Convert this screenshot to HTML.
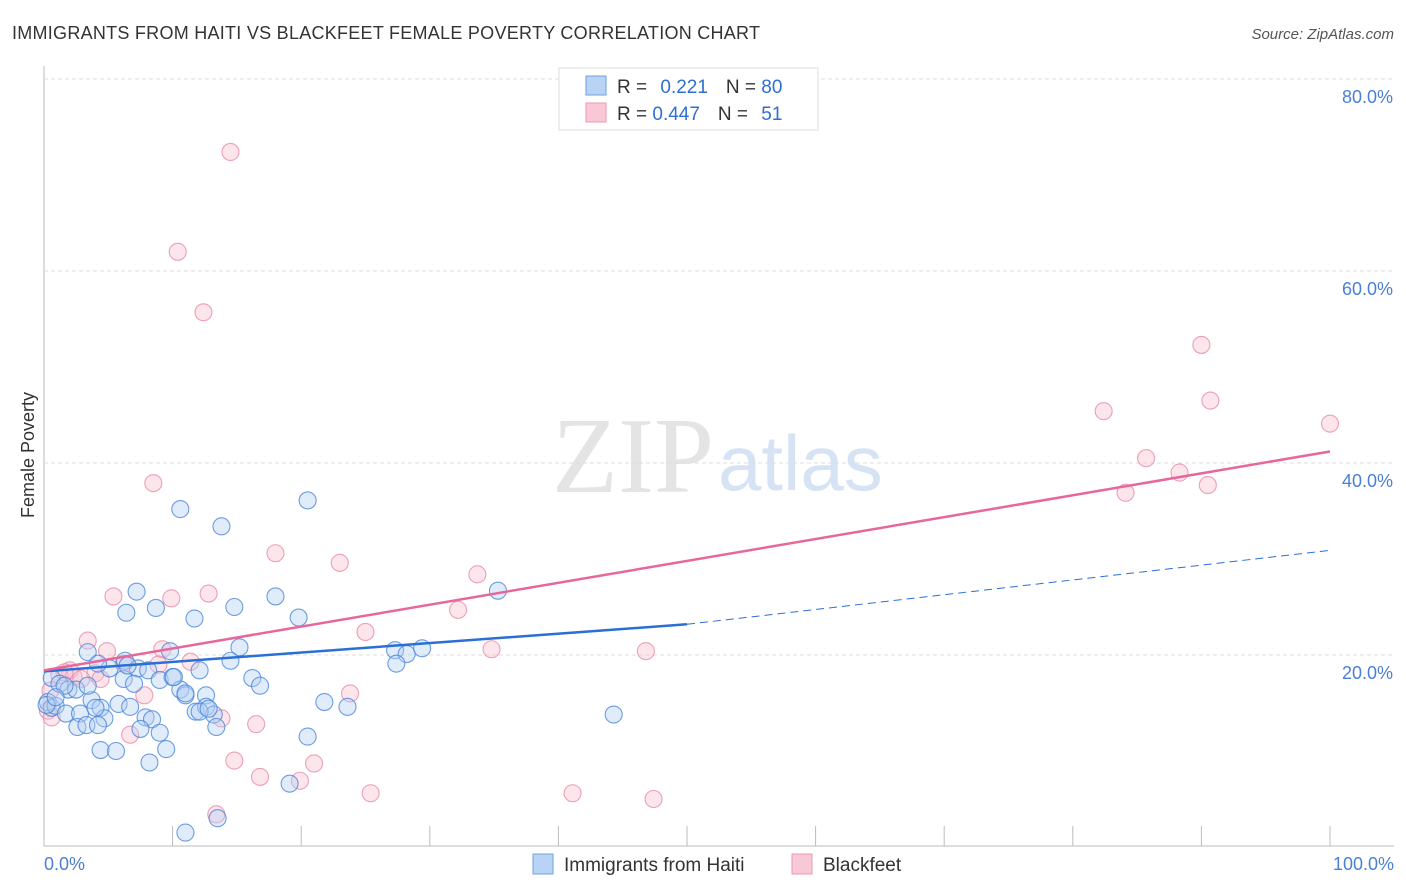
<!DOCTYPE html>
<html><head><meta charset="utf-8"><style>
body{margin:0;background:#fff;font-family:"Liberation Sans",sans-serif;}
svg{display:block}
</style></head><body>
<svg id="chart" width="1406" height="892">
<text x="12" y="39" font-size="18" fill="#333" textLength="748">IMMIGRANTS FROM HAITI VS BLACKFEET FEMALE POVERTY CORRELATION CHART</text>
<text x="1394" y="39" font-size="15" fill="#555" font-style="italic" text-anchor="end">Source: ZipAtlas.com</text>
<text x="714" y="492" font-size="108" fill="#e4e4e4" font-family="Liberation Serif,serif" text-anchor="end">ZIP</text>
<text x="718" y="490" font-size="78" fill="#d6e3f5">atlas</text>
<g id="grid"></g>
<g id="pts"></g>
<g id="lines"></g>
<text x="34" y="455" font-size="18" fill="#333" transform="rotate(-90 34 455)" text-anchor="middle">Female Poverty</text>
<text x="44" y="870" font-size="18" fill="#4a7fd6">0.0%</text>
<text x="1394" y="870" font-size="18" fill="#4a7fd6" text-anchor="end">100.0%</text>
<g>
<rect x="559" y="68" width="259" height="62" fill="#fff" stroke="#ddd"/>
<rect x="586" y="76" width="20" height="19" fill="#b9d3f4" stroke="#6f9fe0"/>
<rect x="586" y="103" width="20" height="19" fill="#f8c8d6" stroke="#ee98b0"/>
<text x="617" y="93" font-size="19" fill="#333">R = <tspan fill="#2f6fd0" dx="8">0.221</tspan><tspan dx="18">N = </tspan><tspan fill="#2f6fd0">80</tspan></text>
<text x="617" y="120" font-size="19" fill="#333">R = <tspan fill="#2f6fd0">0.447</tspan><tspan dx="18">N = </tspan><tspan fill="#2f6fd0" dx="8">51</tspan></text>
</g>
<g>
<rect x="533" y="854" width="20" height="20" fill="#b9d3f4" stroke="#6f9fe0"/>
<text x="564" y="871" font-size="19" fill="#333">Immigrants from Haiti</text>
<rect x="792" y="854" width="20" height="20" fill="#f8c8d6" stroke="#ee98b0"/>
<text x="823" y="871" font-size="19" fill="#333">Blackfeet</text>
</g>
</svg>
<script>
const yTicks=[20,40,60,80];
const xTicks=[0,10,20,30,40,50,60,70,80,90,100];
const haitiX=[10.6,13.8,20.5,7.2,6.4,8.7,14.8,18.0,19.8,11.7,35.3,3.4,6.3,9.8,15.2,14.5,5.1,7.3,8.1,9.0,10.0,12.1,16.2,16.8,27.3,28.2,29.4,27.4,0.6,1.2,1.9,2.5,1.6,0.3,0.6,0.9,1.7,2.8,3.7,4.4,4.7,5.8,6.7,7.9,8.4,10.6,11.0,11.8,12.6,12.6,13.2,12.1,2.6,3.3,4.2,7.5,9.0,9.5,4.4,5.6,8.2,20.5,21.8,23.6,44.3,19.1,11.0,13.5,11.0,10.1,4.2,3.4,6.2,7.0,0.2,0.9,12.8,13.4,4.0,6.5];
const haitiY=[35.2,33.4,36.1,26.6,24.4,24.9,25.0,26.1,23.9,23.8,26.7,20.3,19.4,20.4,20.8,19.4,18.6,18.6,18.4,17.4,17.7,18.4,17.6,16.8,20.5,20.1,20.7,19.1,17.6,17.0,16.4,16.4,16.8,15.1,14.5,14.7,13.9,13.9,15.3,14.5,13.4,14.9,14.6,13.5,13.3,16.4,15.8,14.1,15.8,14.6,13.8,14.1,12.5,12.7,12.7,12.3,11.9,10.2,10.1,10.0,8.8,11.5,15.1,14.6,13.8,6.6,1.5,3.0,16.0,17.7,19.1,16.8,17.5,17.0,14.8,15.6,14.4,12.5,14.5,18.9];
const bfX=[14.5,10.4,12.4,8.5,90.0,82.4,90.7,100.0,85.7,84.1,88.3,90.5,18.0,23.0,33.7,32.2,25.0,34.8,46.8,5.4,9.9,12.8,3.4,4.9,9.2,11.4,8.9,6.2,4.0,2.0,1.2,2.3,2.9,4.4,0.5,0.3,0.6,7.8,23.8,13.8,16.5,6.7,14.8,16.8,21.0,19.9,25.4,41.1,47.4,13.4,1.6];
const bfY=[72.4,62.0,55.7,37.9,52.3,45.4,46.5,44.1,40.5,36.9,39.0,37.7,30.6,29.6,28.4,24.7,22.4,20.6,20.4,26.1,25.9,26.4,21.5,20.4,20.6,19.3,19.0,19.1,18.1,18.4,17.9,17.7,17.5,17.5,16.3,14.2,13.5,15.8,16.0,13.4,12.8,11.7,9.0,7.3,8.7,6.9,5.6,5.6,5.0,3.4,18.2];
const haitiReg=[[0,18.3],[50,23.2],[100,30.9]];
const bfReg=[[0,18.4],[100,41.2]];
const X=v=>44+v*12.86, Y=v=>847-v*9.6;
const NS='http://www.w3.org/2000/svg';
function mk(t,a,p){const e=document.createElementNS(NS,t);for(const k in a)e.setAttribute(k,a[k]);p.appendChild(e);return e;}
const g=document.getElementById('grid');
mk('line',{x1:44,y1:66,x2:44,y2:846,stroke:'#bbb'},g);
mk('line',{x1:44,y1:846,x2:1394,y2:846,stroke:'#bbb'},g);
yTicks.forEach(t=>{
const l=mk('line',{x1:44,y1:Y(t),x2:1394,y2:Y(t),stroke:'#ddd','stroke-dasharray':'4,3'},g);


const tx=mk('text',{x:1393,y:Y(t)+24,'font-size':18,fill:'#4a7fd6','text-anchor':'end'},g);
tx.textContent=t.toFixed(1)+'%';


});
xTicks.forEach(t=>{
const l=mk('line',{x1:X(t),y1:826,x2:X(t),y2:846,stroke:'#bbb'},g);


});
const p=document.getElementById('pts');
function pts(xs,ys,fill,stroke,name){xs.forEach((x,i)=>{
const c=mk('circle',{cx:X(x),cy:Y(ys[i]),r:8.5,fill:fill,'fill-opacity':0.4,stroke:stroke,'stroke-opacity':0.8,'stroke-width':1.1},p);


});}
pts(bfX,bfY,'#f8c0d0','#e88aa8','blackfeet-point');
pts(haitiX,haitiY,'#b3cff3','#4a86dc','haiti-point');
const L=document.getElementById('lines');
const a=mk('line',{x1:X(haitiReg[0][0]),y1:Y(haitiReg[0][1]),x2:X(haitiReg[1][0]),y2:Y(haitiReg[1][1]),stroke:'#2a6fd6','stroke-width':2.5},L);


const b=mk('line',{x1:X(haitiReg[1][0]),y1:Y(haitiReg[1][1]),x2:X(haitiReg[2][0]),y2:Y(haitiReg[2][1]),stroke:'#2a6fd6','stroke-width':1,'stroke-dasharray':'8,5'},L);


const c=mk('line',{x1:X(bfReg[0][0]),y1:Y(bfReg[0][1]),x2:X(bfReg[1][0]),y2:Y(bfReg[1][1]),stroke:'#e8679a','stroke-width':2.5},L);


</script>
</body></html>
